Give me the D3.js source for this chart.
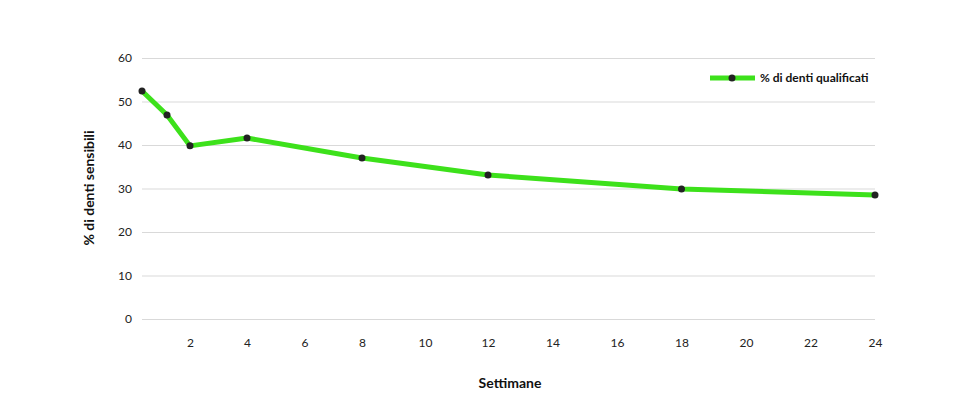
<!DOCTYPE html>
<html><head><meta charset="utf-8">
<script src="https://cdn.jsdelivr.net/npm/d3@7"></script>
<style>body{margin:0;background:#fff;font-family:Lato,"Noto Sans",sans-serif;}</style>
</head><body><div id="chart"></div>
<script>
// Data
var weeks = [0, 1, 2, 4, 8, 12, 18, 24];
var values = [52.4, 46.9, 39.8, 41.6, 37.0, 33.1, 29.9, 28.5];
var xTicks = [2, 4, 6, 8, 10, 12, 14, 16, 18, 20, 22, 24];
var yTicks = [0, 10, 20, 30, 40, 50, 60];
var seriesName = "% di denti qualificati";

var svg = d3.select("#chart").append("svg").attr("width", 970).attr("height", 416);

// the original axis is not evenly spaced, so use a piecewise scale
var x = d3.scaleLinear()
  .domain([0, 1, 2, 4, 8, 12, 24])
  .range([142, 167, 190, 247, 362, 488, 875]);
var y = d3.scaleLinear().domain([0, 60]).range([319, 58]);

// grid + y labels
var yAxis = svg.append("g").attr("transform", "translate(142,0)")
  .call(d3.axisLeft(y).tickValues(yTicks).tickSize(-733).tickPadding(10));
yAxis.select(".domain").remove();
yAxis.selectAll("line").attr("stroke", "#d9d9d9");
yAxis.selectAll("text").attr("font-size", 12).attr("fill", "#222").attr("font-family", "Lato");

var xAxis = svg.append("g").attr("transform", "translate(0,319)")
  .call(d3.axisBottom(x).tickValues(xTicks).tickSize(0).tickPadding(19));
xAxis.select(".domain").remove();
xAxis.selectAll("text").attr("font-size", 12).attr("fill", "#222").attr("font-family", "Lato");

// line
var line = d3.line().x((d, i) => x(weeks[i])).y(d => y(d));
svg.append("path").datum(values).attr("d", line)
  .attr("fill", "none").attr("stroke", "#3de11b").attr("stroke-width", 5)
  .attr("stroke-linejoin", "round").attr("stroke-linecap", "round");

svg.selectAll("circle.pt").data(values).enter().append("circle")
  .attr("cx", (d, i) => x(weeks[i])).attr("cy", d => y(d))
  .attr("r", 3.5).attr("fill", "#222");

// axis titles
svg.append("text").attr("transform", "translate(94,188) rotate(-90)")
  .attr("text-anchor", "middle").attr("font-size", 14).attr("font-weight", "bold")
  .attr("fill", "#111").text("% di denti sensibili");
svg.append("text").attr("x", 510).attr("y", 388).attr("text-anchor", "middle")
  .attr("font-size", 14).attr("font-weight", "bold").attr("fill", "#111").text("Settimane");

// legend
var lg = svg.append("g").attr("transform", "translate(710,78)");
lg.append("line").attr("x1", 0).attr("x2", 45).attr("stroke", "#3de11b").attr("stroke-width", 5);
lg.append("circle").attr("cx", 22).attr("r", 3.5).attr("fill", "#222");
lg.append("text").attr("x", 50).attr("y", 4).attr("font-size", 12).attr("font-weight", "bold")
  .attr("fill", "#111").text(seriesName);
</script></body></html>
